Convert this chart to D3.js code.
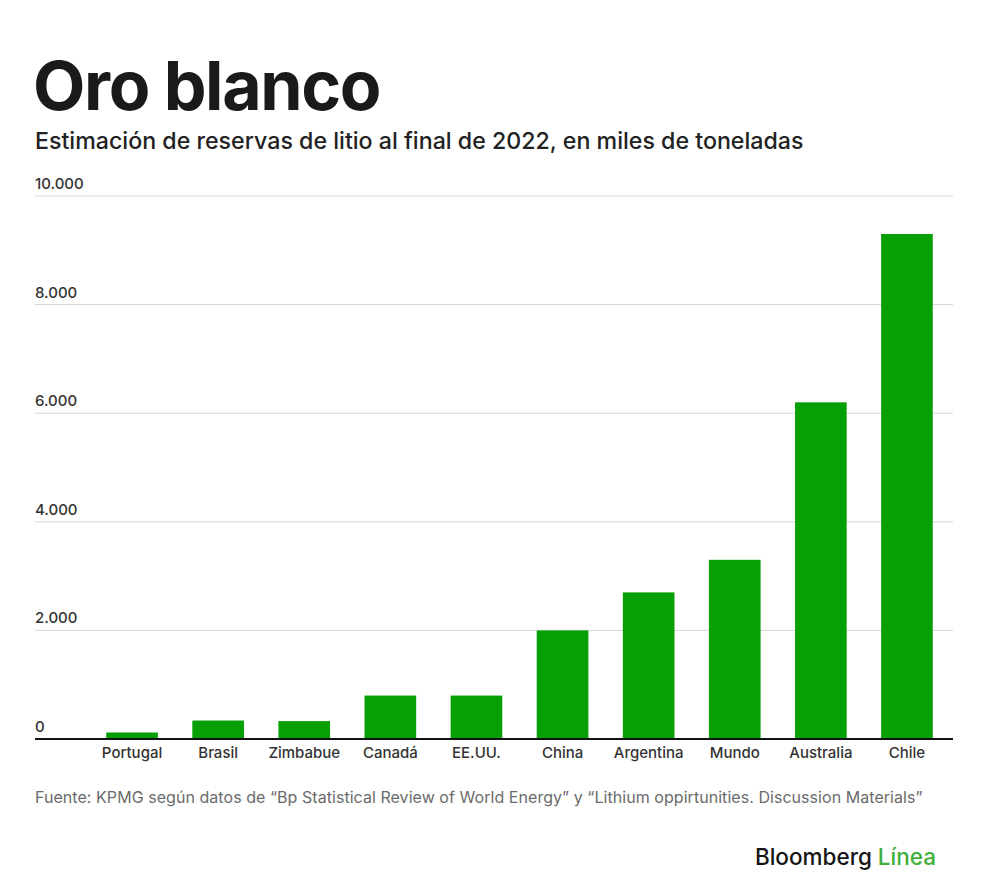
<!DOCTYPE html>
<html>
<head>
<meta charset="utf-8">
<script src="https://cdn.jsdelivr.net/npm/d3@7"></script>
<style>
	body { margin:0; background:#fff; }
	svg text { font-family: Inter, "Liberation Sans", sans-serif; }
</style>
</head>
<body>
<div id="chart"></div>
<script>
// data (miles de toneladas)
const paises = ["Portugal","Brasil","Zimbabue","Canadá","EE.UU.","China","Argentina","Mundo","Australia","Chile"]
const reservas = [120, 340, 330, 800, 800, 2000, 2700, 3300, 6200, 9300]
const yTicks = [0, 2000, 4000, 6000, 8000, 10000]
const tickLabels = ["0","2.000","4.000","6.000","8.000","10.000"]

const titulo = "Oro blanco"
const subtitulo = "Estimación de reservas de litio al final de 2022, en miles de toneladas"
const fuente = "Fuente: KPMG según datos de \u201CBp Statistical Review of World Energy\u201D y \u201CLithium oppirtunities. Discussion Materials\u201D"

let W = 1000, H = 892
let margin = {left: 35, right: 953, top: 196, bottom: 739}

let svg = d3.select("#chart").append("svg")
	.attr("width", W)
	.attr("height", H)

svg.append("text")
	.attr("x", margin.left - 2).attr("y", 110)
	.attr("font-size", 68).attr("font-weight", 700)
	.attr("letter-spacing", -1.4)
	.attr("fill", "#1a1a1a")
	.text(titulo)

svg.append("text")
	.attr("x", margin.left).attr("y", 149)
	.attr("font-size", 23.2).attr("font-weight", 500)
	.attr("fill", "#222")
	.text(subtitulo)

let x = d3.scaleBand()
	.domain(paises)
	.range([89, 950])
	.paddingInner(0.4)
	.paddingOuter(0.2)

let y = d3.scaleLinear()
	.domain([0, 10000])
	.range([margin.bottom, margin.top])

// grid + labels
let grid = svg.append("g").attr("class","grid")
grid.selectAll("line")
	.data(yTicks.slice(1))
	.enter().append("line")
	.attr("x1", margin.left).attr("x2", margin.right)
	.attr("y1", d => y(d)).attr("y2", d => y(d))
	.attr("stroke", "#d6d6d6").attr("stroke-width", 1)

grid.selectAll("text")
	.data(yTicks)
	.enter().append("text")
	.attr("x", margin.left).attr("y", d => y(d) - 7)
	.attr("font-size", 15).attr("font-weight", 500).attr("fill", "#333")
	.text((d,i) => tickLabels[i])

svg.selectAll(".bar")
	.data(reservas)
	.enter().append("rect")
	.attr("class","bar")
	.attr("x", (d,i) => x(paises[i]))
	.attr("width", x.bandwidth())
	.attr("y", d => y(d))
	.attr("height", d => y(0) - y(d))
	.attr("fill", "#06a006")

let xAxis = d3.axisBottom(x).tickSize(0).tickPadding(8)
let gx = svg.append("g")
	.attr("transform", `translate(0,${margin.bottom})`)
	.call(xAxis)
gx.select(".domain").remove()
gx.append("line")
	.attr("x1", margin.left).attr("x2", margin.right)
	.attr("stroke", "#111").attr("stroke-width", 2)
gx.selectAll(".tick text")
	.attr("font-family", "Inter, 'Liberation Sans', sans-serif")
	.attr("font-size", 15).attr("font-weight", 500)
	.attr("fill", "#333")

svg.append("text")
	.attr("x", margin.left).attr("y", 803)
	.attr("font-size", 16).attr("fill", "#6b6b6b")
	.attr("letter-spacing", 0.05)
	.text(fuente)

let logo = svg.append("text")
	.attr("x", 936).attr("y", 865)
	.attr("text-anchor", "end")
	.attr("font-size", 22.5).attr("font-weight", 500)
logo.append("tspan").attr("fill", "#151515").text("Bloomberg ")
logo.append("tspan").attr("fill", "#3fae3a").text("Línea")
</script>
</body>
</html>
